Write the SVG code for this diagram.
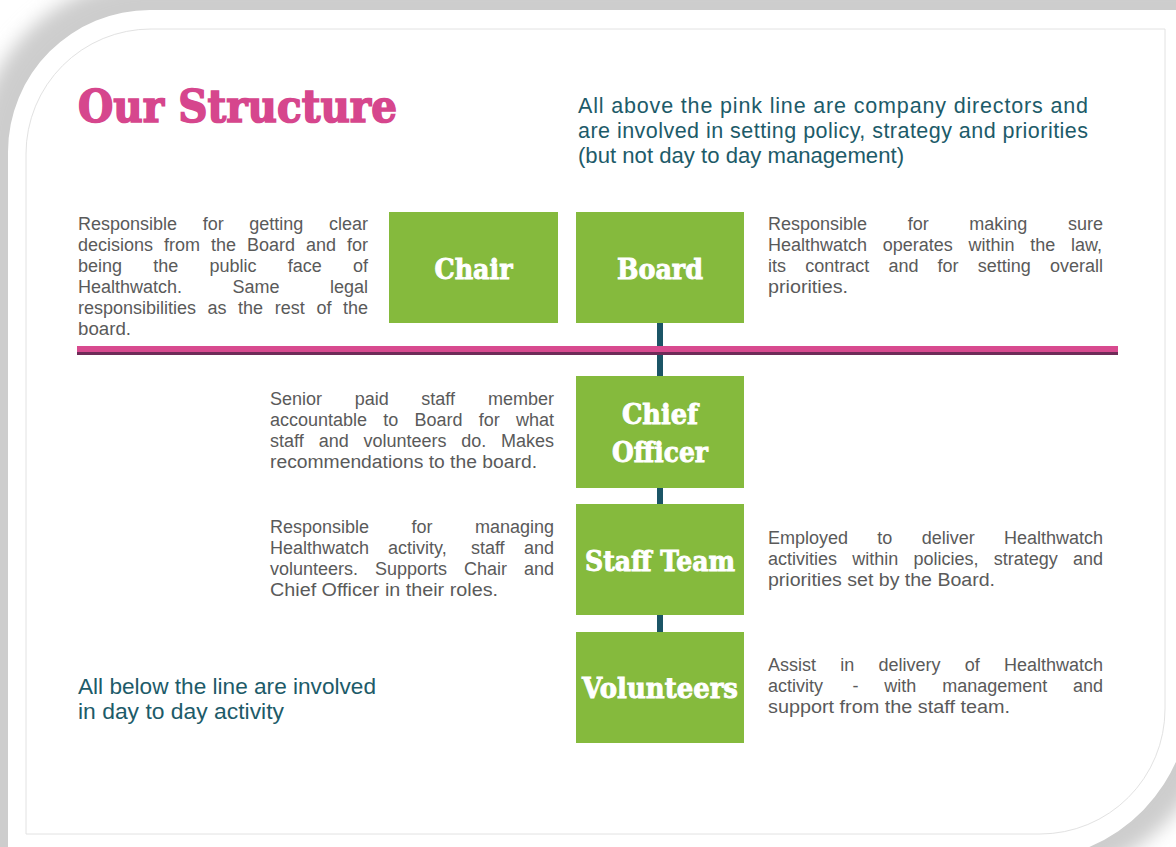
<svg xmlns="http://www.w3.org/2000/svg" width="1176" height="847" viewBox="0 0 1176 847">
  <style>
    .body { font-family: "Liberation Sans", Arial, sans-serif; font-size: 18px; fill: #5a5a5a; }
    .lead { font-family: "Liberation Sans", Arial, sans-serif; font-size: 21.5px; fill: #1d5b69; }
    .box { fill: #85ba3d; }
    .label { font-family: "DejaVu Serif", "Liberation Serif", serif; font-weight: bold; font-size: 27px; fill: #ffffff; stroke: #ffffff; stroke-width: 0.9px; text-anchor: middle; }
    .title { font-family: "DejaVu Serif", "Liberation Serif", serif; font-weight: bold; font-size: 44px; fill: #d6468d; stroke: #d6468d; stroke-width: 1.6px; }
    .link { fill: #1b5566; }
  </style>
  <defs>
    <filter id="soft" x="-10%" y="-10%" width="120%" height="120%">
      <feGaussianBlur stdDeviation="9"/>
    </filter>
  </defs>

  <!-- page background and card shadow -->
  <rect x="0" y="0" width="1176" height="847" fill="#ffffff"/>
  <path d="M -22 152 A 172 172 0 0 1 150 -20 L 1220 -20 L 1220 690 A 190 190 0 0 1 1030 880 L -22 880 Z" fill="#cdcdcd" filter="url(#soft)"/>
  <!-- white card with rounded top-left and bottom-right corners -->
  <path d="M 8 152 A 142 142 0 0 1 150 10 L 1190 10 L 1190 690 A 165 165 0 0 1 1025 860 L 8 860 Z" fill="#ffffff"/>
  <!-- inner frame -->
  <path d="M 26 154 A 125 125 0 0 1 151 29 L 1165 29 L 1165 709 A 125 125 0 0 1 1040 834 L 26 834 Z" fill="none" stroke="#e2e2e2" stroke-width="1"/>

  <!-- heading -->
  <text class="title" x="78" y="122" textLength="319" lengthAdjust="spacingAndGlyphs">Our Structure</text>

  <g id="note-directors" class="lead">
    <text x="578" y="113" textLength="510" lengthAdjust="spacing">All above the pink line are company directors and</text>
    <text x="578" y="138" textLength="510" lengthAdjust="spacing">are involved in setting policy, strategy and priorities</text>
    <text x="578" y="163" textLength="326" lengthAdjust="spacingAndGlyphs">(but not day to day management)</text>
  </g>

  <g id="note-day-to-day" class="lead">
    <text x="78" y="694" textLength="298" lengthAdjust="spacingAndGlyphs">All below the line are involved</text>
    <text x="78" y="719" textLength="206" lengthAdjust="spacingAndGlyphs">in day to day activity</text>
  </g>

  <!-- connectors -->
  <g id="connectors">
    <rect class="link" x="657" y="322" width="6" height="55"/>
    <rect class="link" x="657" y="487" width="6" height="18"/>
    <rect class="link" x="657" y="614" width="6" height="19"/>
    <!-- pink dividing line -->
    <rect x="77" y="346" width="1041" height="6" fill="#d84a8f"/>
    <rect x="77" y="352" width="1041" height="3" fill="#6e2b58"/>
  </g>

  <!-- nodes -->
  <g id="chair">
    <rect class="box" x="389" y="212" width="169" height="111"/>
    <text class="label" x="473.5" y="279" textLength="78" lengthAdjust="spacingAndGlyphs">Chair</text>
  </g>
  <g id="board">
    <rect class="box" x="576" y="212" width="168" height="111"/>
    <text class="label" x="660" y="279" textLength="86" lengthAdjust="spacingAndGlyphs">Board</text>
  </g>
  <g id="chief-officer">
    <rect class="box" x="576" y="376" width="168" height="112"/>
    <text class="label" x="660" y="424" textLength="76" lengthAdjust="spacingAndGlyphs">Chief</text>
    <text class="label" x="660" y="462" textLength="96" lengthAdjust="spacingAndGlyphs">Officer</text>
  </g>
  <g id="staff-team">
    <rect class="box" x="576" y="504" width="168" height="111"/>
    <text class="label" x="660" y="571" textLength="150" lengthAdjust="spacingAndGlyphs">Staff Team</text>
  </g>
  <g id="volunteers">
    <rect class="box" x="576" y="632" width="168" height="111"/>
    <text class="label" x="660" y="698" textLength="156" lengthAdjust="spacingAndGlyphs">Volunteers</text>
  </g>

  <!-- descriptions: justified lines place each word, last lines run ragged -->
  <g id="chair-text" class="body">
    <text y="230"><tspan x="78">Responsible</tspan><tspan x="202.7">for</tspan><tspan x="249.3">getting</tspan><tspan x="329">clear</tspan></text>
    <text y="251"><tspan x="78">decisions</tspan><tspan x="164">from</tspan><tspan x="211">the</tspan><tspan x="247">Board</tspan><tspan x="306">and</tspan><tspan x="347">for</tspan></text>
    <text y="272"><tspan x="78">being</tspan><tspan x="153.3">the</tspan><tspan x="209.5">public</tspan><tspan x="287.8">face</tspan><tspan x="353">of</tspan></text>
    <text y="293"><tspan x="78">Healthwatch.</tspan><tspan x="232.5">Same</tspan><tspan x="330">legal</tspan></text>
    <text y="314"><tspan x="78">responsibilities</tspan><tspan x="207.4">as</tspan><tspan x="238">the</tspan><tspan x="274.7">rest</tspan><tspan x="316.4">of</tspan><tspan x="343">the</tspan></text>
    <text x="78" y="335" textLength="53" lengthAdjust="spacingAndGlyphs">board.</text>
  </g>

  <g id="board-text" class="body">
    <text y="230"><tspan x="768">Responsible</tspan><tspan x="907.7">for</tspan><tspan x="969.3">making</tspan><tspan x="1068">sure</tspan></text>
    <text y="251"><tspan x="768">Healthwatch</tspan><tspan x="882.8">operates</tspan><tspan x="968.5">within</tspan><tspan x="1030.3">the</tspan><tspan x="1071">law,</tspan></text>
    <text y="272"><tspan x="768">its</tspan><tspan x="805.2">contract</tspan><tspan x="888.4">and</tspan><tspan x="937.6">for</tspan><tspan x="977.8">setting</tspan><tspan x="1050">overall</tspan></text>
    <text x="768" y="293" textLength="80" lengthAdjust="spacingAndGlyphs">priorities.</text>
  </g>

  <g id="chief-officer-text" class="body">
    <text y="405"><tspan x="270">Senior</tspan><tspan x="354.7">paid</tspan><tspan x="421.3">staff</tspan><tspan x="488">member</tspan></text>
    <text y="426"><tspan x="270">accountable</tspan><tspan x="383.3">to</tspan><tspan x="414.5">Board</tspan><tspan x="478.7">for</tspan><tspan x="515.9">what</tspan></text>
    <text y="447"><tspan x="270">staff</tspan><tspan x="318.8">and</tspan><tspan x="363.5">volunteers</tspan><tspan x="461.3">do.</tspan><tspan x="501">Makes</tspan></text>
    <text x="270" y="468" textLength="267" lengthAdjust="spacingAndGlyphs">recommendations to the board.</text>
  </g>

  <g id="staff-team-text-left" class="body">
    <text y="533"><tspan x="270">Responsible</tspan><tspan x="411.5">for</tspan><tspan x="475">managing</tspan></text>
    <text y="554"><tspan x="270">Healthwatch</tspan><tspan x="388.1">activity,</tspan><tspan x="470.9">staff</tspan><tspan x="524">and</tspan></text>
    <text y="575"><tspan x="270">volunteers.</tspan><tspan x="375">Supports</tspan><tspan x="464">Chair</tspan><tspan x="524">and</tspan></text>
    <text x="270" y="596" textLength="228" lengthAdjust="spacingAndGlyphs">Chief Officer in their roles.</text>
  </g>

  <g id="staff-team-text-right" class="body">
    <text y="544"><tspan x="768">Employed</tspan><tspan x="877.3">to</tspan><tspan x="921.7">deliver</tspan><tspan x="1004">Healthwatch</tspan></text>
    <text y="565"><tspan x="768">activities</tspan><tspan x="852.3">within</tspan><tspan x="913.5">policies,</tspan><tspan x="993.8">strategy</tspan><tspan x="1073">and</tspan></text>
    <text x="768" y="586" textLength="227" lengthAdjust="spacingAndGlyphs">priorities set by the Board.</text>
  </g>

  <g id="volunteers-text" class="body">
    <text y="671"><tspan x="768">Assist</tspan><tspan x="840.3">in</tspan><tspan x="878.5">delivery</tspan><tspan x="964.8">of</tspan><tspan x="1004">Healthwatch</tspan></text>
    <text y="692"><tspan x="768">activity</tspan><tspan x="852.5">-</tspan><tspan x="884.3">with</tspan><tspan x="942.2">management</tspan><tspan x="1073">and</tspan></text>
    <text x="768" y="713" textLength="242" lengthAdjust="spacingAndGlyphs">support from the staff team.</text>
  </g>
</svg>
